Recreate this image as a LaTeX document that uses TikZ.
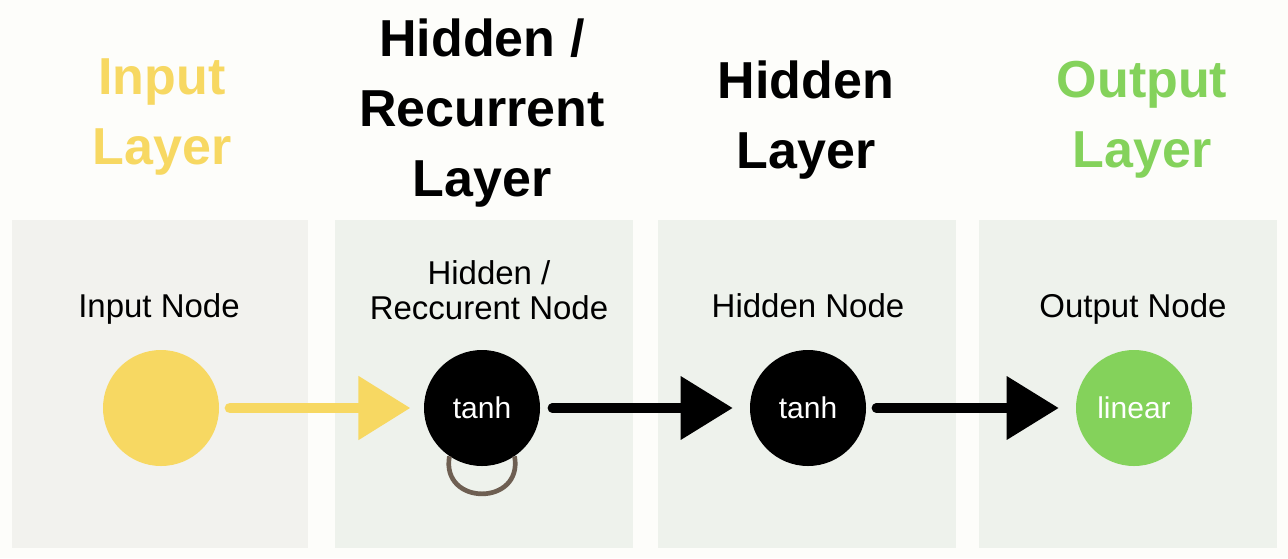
\documentclass[tikz,border=0pt]{standalone}
\usepackage{fontspec}
\setmainfont{Liberation Sans}
\usetikzlibrary{arrows.meta}

\definecolor{bgwhite}{HTML}{FDFDFA}
\definecolor{panelgray}{HTML}{F2F2EE}
\definecolor{panelgreen}{HTML}{EEF2EC}
\definecolor{inyellow}{HTML}{F7D862}
\definecolor{outgreen}{HTML}{84D25B}
\definecolor{loopbrown}{HTML}{6E5F52}

\begin{document}
\begin{tikzpicture}[x=0.75pt,y=-0.75pt,>={Triangle[length=39pt,width=46pt]},
        layertitle/.style={align=center,font=\fontsize{39}{52.5}\selectfont\bfseries},
        nodelabel/.style={align=center,font=\fontsize{24.75}{26.25}\selectfont},
        neuron/.style={circle,minimum size=87pt,inner sep=0pt,text=white,font=\fontsize{22.5}{26}\selectfont},
        flow/.style={->,line width=7pt,line cap=round}]
        \def\top{220}
        \def\pw{298}
        \def\ph{328}
        \def\midy{408}
        \def\lbase{317}

        \useasboundingbox (0,0) rectangle (1288,558);
        \fill[bgwhite] (0,0) rectangle (1288,558);

        % panels
        \fill[panelgray] (12,\top) rectangle +(296,\ph);
        \foreach \x in {335,658,979}
            \fill[panelgreen] (\x,\top) rectangle +(\pw,\ph);

        % layer titles
        \node[layertitle, text=inyellow] (tin) at (162,117) {Input\\Layer};
        \node[layertitle] (trec) at (482,113) {Hidden /\\Recurrent\\Layer};
        \node[layertitle] (thid) at (806,120) {Hidden\\Layer};
        \node[layertitle, text=outgreen] (tout) at (1142,120) {Output\\Layer};

        % node labels
        \node[nodelabel, anchor=base] (lin) at (159,\lbase) {Input Node};
        \node[nodelabel] (lrec) at (489,290) {Hidden /\\Reccurent Node};
        \node[nodelabel, anchor=base] (lhid) at (808,\lbase) {Hidden Node};
        \node[nodelabel, anchor=base] (lout) at (1133,\lbase) {Output Node};

        % neurons
        \node[neuron, fill=inyellow] (in) at (161,\midy) {};
        \node[neuron, fill=black] (rec) at (482,\midy) {tanh};
        \node[neuron, fill=black] (hid) at (808,\midy) {tanh};
        \node[neuron, fill=outgreen] (out) at (1134,\midy) {linear};

        % connections
        \draw[flow, inyellow, line width=8pt, shorten <=8pt, shorten >=10pt] (in) -- (rec);
        \draw[flow, shorten <=9pt, shorten >=12.75pt] (rec) -- (hid);
        \draw[flow, shorten <=7.5pt, shorten >=12.75pt] (hid) -- (out);
        \draw[loopbrown, line width=3.5pt] (rec.-124) to[out=-100, in=-80, looseness=2] (rec.-56);

    \end{tikzpicture}
\end{document}
